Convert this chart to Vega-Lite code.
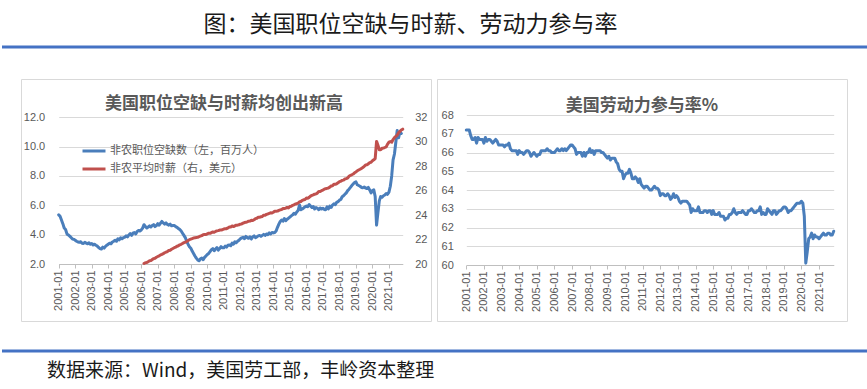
{
  "$schema": "https://vega.github.io/schema/vega-lite/v6.json",
  "padding": 0,
  "background": "white",
  "spacing": 29,
  "resolve": {"scale": {"color": "independent"}, "legend": {"color": "independent"}},
  "config": {
    "view": {"stroke": "#d9d9d9", "strokeWidth": 1},
    "axis": {"labelFont": "Liberation Sans", "labelFontSize": 11, "labelColor": "#595959", "title": null, "gridColor": "#d9d9d9", "gridWidth": 1, "domainColor": "#bfbfbf", "tickColor": "#bfbfbf"},
    "title": {"font": "Noto Sans CJK SC", "fontSize": 17, "fontWeight": "bold", "color": "#595959", "anchor": "middle", "frame": "group", "baseline": "middle"},
    "line": {"strokeWidth": 3, "strokeJoin": "round", "strokeCap": "round"}
  },
  "datasets": {
    "jw": [
      {"d":"2001-01","jo":5.35},{"d":"2001-02","jo":5.25},{"d":"2001-03","jo":5.0},{"d":"2001-04","jo":4.75},{"d":"2001-05","jo":4.45},{"d":"2001-06","jo":4.35},{"d":"2001-07","jo":4.05},{"d":"2001-08","jo":3.98},{"d":"2001-09","jo":3.9},{"d":"2001-10","jo":3.8},{"d":"2001-11","jo":3.7},{"d":"2001-12","jo":3.68},
      {"d":"2002-01","jo":3.62},{"d":"2002-02","jo":3.55},{"d":"2002-03","jo":3.5},{"d":"2002-04","jo":3.48},{"d":"2002-05","jo":3.52},{"d":"2002-06","jo":3.42},{"d":"2002-07","jo":3.4},{"d":"2002-08","jo":3.48},{"d":"2002-09","jo":3.42},{"d":"2002-10","jo":3.38},{"d":"2002-11","jo":3.45},{"d":"2002-12","jo":3.35},
      {"d":"2003-01","jo":3.4},{"d":"2003-02","jo":3.3},{"d":"2003-03","jo":3.35},{"d":"2003-04","jo":3.28},{"d":"2003-05","jo":3.22},{"d":"2003-06","jo":3.12},{"d":"2003-07","jo":3.05},{"d":"2003-08","jo":3.02},{"d":"2003-09","jo":3.15},{"d":"2003-10","jo":3.08},{"d":"2003-11","jo":3.2},{"d":"2003-12","jo":3.28},
      {"d":"2004-01","jo":3.35},{"d":"2004-02","jo":3.42},{"d":"2004-03","jo":3.38},{"d":"2004-04","jo":3.5},{"d":"2004-05","jo":3.55},{"d":"2004-06","jo":3.62},{"d":"2004-07","jo":3.55},{"d":"2004-08","jo":3.72},{"d":"2004-09","jo":3.65},{"d":"2004-10","jo":3.78},{"d":"2004-11","jo":3.72},{"d":"2004-12","jo":3.8},
      {"d":"2005-01","jo":3.82},{"d":"2005-02","jo":3.92},{"d":"2005-03","jo":3.85},{"d":"2005-04","jo":3.98},{"d":"2005-05","jo":4.08},{"d":"2005-06","jo":3.95},{"d":"2005-07","jo":4.1},{"d":"2005-08","jo":4.15},{"d":"2005-09","jo":4.05},{"d":"2005-10","jo":4.22},{"d":"2005-11","jo":4.28},{"d":"2005-12","jo":4.25},
      {"d":"2006-01","jo":4.32},{"d":"2006-02","jo":4.45},{"d":"2006-03","jo":4.68,"w":20.04},{"d":"2006-04","jo":4.55,"w":20.11},{"d":"2006-05","jo":4.45,"w":20.12},{"d":"2006-06","jo":4.52,"w":20.19},{"d":"2006-07","jo":4.6,"w":20.26},{"d":"2006-08","jo":4.52,"w":20.28},{"d":"2006-09","jo":4.62,"w":20.37},{"d":"2006-10","jo":4.68,"w":20.44},{"d":"2006-11","jo":4.55,"w":20.47},{"d":"2006-12","jo":4.62,"w":20.55},
      {"d":"2007-01","jo":4.75,"w":20.61},{"d":"2007-02","jo":4.65,"w":20.67},{"d":"2007-03","jo":4.78,"w":20.74},{"d":"2007-04","jo":4.9,"w":20.79},{"d":"2007-05","jo":4.8,"w":20.85},{"d":"2007-06","jo":4.72,"w":20.92},{"d":"2007-07","jo":4.8,"w":20.97},{"d":"2007-08","jo":4.7,"w":21.02},{"d":"2007-09","jo":4.65,"w":21.1},{"d":"2007-10","jo":4.72,"w":21.13},{"d":"2007-11","jo":4.6,"w":21.21},{"d":"2007-12","jo":4.62,"w":21.27},
      {"d":"2008-01","jo":4.62,"w":21.33},{"d":"2008-02","jo":4.55,"w":21.38},{"d":"2008-03","jo":4.5,"w":21.45},{"d":"2008-04","jo":4.42,"w":21.49},{"d":"2008-05","jo":4.35,"w":21.57},{"d":"2008-06","jo":4.25,"w":21.61},{"d":"2008-07","jo":4.1,"w":21.68},{"d":"2008-08","jo":3.95,"w":21.75},{"d":"2008-09","jo":3.8,"w":21.78},{"d":"2008-10","jo":3.55,"w":21.84},{"d":"2008-11","jo":3.35,"w":21.92},{"d":"2008-12","jo":3.18,"w":21.99},
      {"d":"2009-01","jo":3.08,"w":22.03},{"d":"2009-02","jo":2.88,"w":22.07},{"d":"2009-03","jo":2.72,"w":22.13},{"d":"2009-04","jo":2.55,"w":22.14},{"d":"2009-05","jo":2.4,"w":22.17},{"d":"2009-06","jo":2.28,"w":22.18},{"d":"2009-07","jo":2.22,"w":22.23},{"d":"2009-08","jo":2.35,"w":22.29},{"d":"2009-09","jo":2.4,"w":22.32},{"d":"2009-10","jo":2.3,"w":22.39},{"d":"2009-11","jo":2.45,"w":22.42},{"d":"2009-12","jo":2.55,"w":22.41},
      {"d":"2010-01","jo":2.65,"w":22.47},{"d":"2010-02","jo":2.72,"w":22.52},{"d":"2010-03","jo":2.85,"w":22.51},{"d":"2010-04","jo":2.98,"w":22.57},{"d":"2010-05","jo":3.05,"w":22.62},{"d":"2010-06","jo":2.9,"w":22.6},{"d":"2010-07","jo":3.02,"w":22.66},{"d":"2010-08","jo":3.12,"w":22.71},{"d":"2010-09","jo":2.95,"w":22.73},{"d":"2010-10","jo":3.05,"w":22.78},{"d":"2010-11","jo":3.18,"w":22.78},{"d":"2010-12","jo":3.1,"w":22.8},
      {"d":"2011-01","jo":3.1,"w":22.86},{"d":"2011-02","jo":3.22,"w":22.88},{"d":"2011-03","jo":3.15,"w":22.89},{"d":"2011-04","jo":3.28,"w":22.95},{"d":"2011-05","jo":3.3,"w":23.02},{"d":"2011-06","jo":3.25,"w":23.03},{"d":"2011-07","jo":3.42,"w":23.11},{"d":"2011-08","jo":3.35,"w":23.06},{"d":"2011-09","jo":3.52,"w":23.12},{"d":"2011-10","jo":3.45,"w":23.18},{"d":"2011-11","jo":3.55,"w":23.18},{"d":"2011-12","jo":3.62,"w":23.21},
      {"d":"2012-01","jo":3.72,"w":23.26},{"d":"2012-02","jo":3.78,"w":23.28},{"d":"2012-03","jo":3.82,"w":23.34},{"d":"2012-04","jo":3.72,"w":23.39},{"d":"2012-05","jo":3.88,"w":23.41},{"d":"2012-06","jo":3.8,"w":23.45},{"d":"2012-07","jo":3.75,"w":23.5},{"d":"2012-08","jo":3.85,"w":23.51},{"d":"2012-09","jo":3.7,"w":23.57},{"d":"2012-10","jo":3.85,"w":23.56},{"d":"2012-11","jo":3.92,"w":23.62},{"d":"2012-12","jo":3.8,"w":23.71},
      {"d":"2013-01","jo":3.85,"w":23.74},{"d":"2013-02","jo":3.92,"w":23.82},{"d":"2013-03","jo":3.95,"w":23.83},{"d":"2013-04","jo":3.88,"w":23.86},{"d":"2013-05","jo":3.95,"w":23.89},{"d":"2013-06","jo":4.02,"w":23.99},{"d":"2013-07","jo":3.95,"w":23.99},{"d":"2013-08","jo":4.05,"w":24.06},{"d":"2013-09","jo":4.0,"w":24.09},{"d":"2013-10","jo":4.12,"w":24.14},{"d":"2013-11","jo":4.05,"w":24.19},{"d":"2013-12","jo":4.15,"w":24.17},
      {"d":"2014-01","jo":4.12,"w":24.23},{"d":"2014-02","jo":4.15,"w":24.32},{"d":"2014-03","jo":4.25,"w":24.32},{"d":"2014-04","jo":4.5,"w":24.33},{"d":"2014-05","jo":4.72,"w":24.39},{"d":"2014-06","jo":4.9,"w":24.43},{"d":"2014-07","jo":5.0,"w":24.46},{"d":"2014-08","jo":4.92,"w":24.53},{"d":"2014-09","jo":5.1,"w":24.53},{"d":"2014-10","jo":4.95,"w":24.57},{"d":"2014-11","jo":5.05,"w":24.63},{"d":"2014-12","jo":5.12,"w":24.59},
      {"d":"2015-01","jo":5.2,"w":24.7},{"d":"2015-02","jo":5.28,"w":24.73},{"d":"2015-03","jo":5.35,"w":24.8},{"d":"2015-04","jo":5.45,"w":24.84},{"d":"2015-05","jo":5.4,"w":24.91},{"d":"2015-06","jo":5.55,"w":24.93},{"d":"2015-07","jo":5.65,"w":24.99},{"d":"2015-08","jo":6.02,"w":25.09},{"d":"2015-09","jo":5.7,"w":25.11},{"d":"2015-10","jo":5.75,"w":25.2},{"d":"2015-11","jo":5.82,"w":25.25},{"d":"2015-12","jo":5.9,"w":25.28},
      {"d":"2016-01","jo":5.95,"w":25.39},{"d":"2016-02","jo":5.9,"w":25.38},{"d":"2016-03","jo":6.05,"w":25.45},{"d":"2016-04","jo":5.95,"w":25.55},{"d":"2016-05","jo":5.85,"w":25.61},{"d":"2016-06","jo":5.92,"w":25.65},{"d":"2016-07","jo":5.75,"w":25.71},{"d":"2016-08","jo":5.85,"w":25.74},{"d":"2016-09","jo":5.8,"w":25.8},{"d":"2016-10","jo":5.7,"w":25.93},{"d":"2016-11","jo":5.82,"w":25.93},{"d":"2016-12","jo":5.75,"w":26.0},
      {"d":"2017-01","jo":5.8,"w":26.05},{"d":"2017-02","jo":5.72,"w":26.12},{"d":"2017-03","jo":5.7,"w":26.16},{"d":"2017-04","jo":5.9,"w":26.19},{"d":"2017-05","jo":5.75,"w":26.22},{"d":"2017-06","jo":5.95,"w":26.29},{"d":"2017-07","jo":5.85,"w":26.38},{"d":"2017-08","jo":6.02,"w":26.4},{"d":"2017-09","jo":6.1,"w":26.53},{"d":"2017-10","jo":6.05,"w":26.52},{"d":"2017-11","jo":6.2,"w":26.56},{"d":"2017-12","jo":6.25,"w":26.64},
      {"d":"2018-01","jo":6.35,"w":26.74},{"d":"2018-02","jo":6.4,"w":26.77},{"d":"2018-03","jo":6.58,"w":26.84},{"d":"2018-04","jo":6.65,"w":26.86},{"d":"2018-05","jo":6.75,"w":26.95},{"d":"2018-06","jo":6.85,"w":26.98},{"d":"2018-07","jo":7.0,"w":27.04},{"d":"2018-08","jo":7.1,"w":27.17},{"d":"2018-09","jo":7.22,"w":27.25},{"d":"2018-10","jo":7.35,"w":27.3},{"d":"2018-11","jo":7.45,"w":27.36},{"d":"2018-12","jo":7.55,"w":27.46},
      {"d":"2019-01","jo":7.6,"w":27.53},{"d":"2019-02","jo":7.4,"w":27.62},{"d":"2019-03","jo":7.35,"w":27.69},{"d":"2019-04","jo":7.3,"w":27.75},{"d":"2019-05","jo":7.22,"w":27.82},{"d":"2019-06","jo":7.2,"w":27.89},{"d":"2019-07","jo":7.25,"w":27.99},{"d":"2019-08","jo":7.18,"w":28.1},{"d":"2019-09","jo":7.15,"w":28.12},{"d":"2019-10","jo":7.22,"w":28.19},{"d":"2019-11","jo":7.05,"w":28.29},{"d":"2019-12","jo":6.85,"w":28.32},
      {"d":"2020-01","jo":7.0,"w":28.44},{"d":"2020-02","jo":7.05,"w":28.52},{"d":"2020-03","jo":6.6,"w":28.62},{"d":"2020-04","jo":4.65,"w":30.03},{"d":"2020-05","jo":5.5,"w":29.72},{"d":"2020-06","jo":6.3,"w":29.35},{"d":"2020-07","jo":6.6,"w":29.34},{"d":"2020-08","jo":6.55,"w":29.46},{"d":"2020-09","jo":6.65,"w":29.48},{"d":"2020-10","jo":6.7,"w":29.53},{"d":"2020-11","jo":6.8,"w":29.58},{"d":"2020-12","jo":6.75,"w":29.81},
      {"d":"2021-01","jo":6.9,"w":29.96},{"d":"2021-02","jo":7.3,"w":30.01},{"d":"2021-03","jo":8.0,"w":29.96},{"d":"2021-04","jo":9.1,"w":30.18},{"d":"2021-05","jo":9.5,"w":30.33},{"d":"2021-06","jo":10.3,"w":30.43},{"d":"2021-07","jo":11.1,"w":30.54},{"d":"2021-08","jo":10.6,"w":30.73},{"d":"2021-09","jo":11.0,"w":30.85},{"d":"2021-10","jo":10.9,"w":30.96},{"d":"2021-11","w":31.03}
    ],
    "lf": [
      {"d":"2001-01","p":67.2},{"d":"2001-02","p":67.2},{"d":"2001-03","p":67.2},{"d":"2001-04","p":66.9},{"d":"2001-05","p":66.7},{"d":"2001-06","p":66.7},{"d":"2001-07","p":66.8},{"d":"2001-08","p":66.5},{"d":"2001-09","p":66.8},{"d":"2001-10","p":66.7},{"d":"2001-11","p":66.7},{"d":"2001-12","p":66.7},
      {"d":"2002-01","p":66.5},{"d":"2002-02","p":66.8},{"d":"2002-03","p":66.6},{"d":"2002-04","p":66.7},{"d":"2002-05","p":66.7},{"d":"2002-06","p":66.6},{"d":"2002-07","p":66.5},{"d":"2002-08","p":66.6},{"d":"2002-09","p":66.7},{"d":"2002-10","p":66.6},{"d":"2002-11","p":66.4},{"d":"2002-12","p":66.4},
      {"d":"2003-01","p":66.4},{"d":"2003-02","p":66.4},{"d":"2003-03","p":66.3},{"d":"2003-04","p":66.4},{"d":"2003-05","p":66.4},{"d":"2003-06","p":66.5},{"d":"2003-07","p":66.2},{"d":"2003-08","p":66.1},{"d":"2003-09","p":66.1},{"d":"2003-10","p":66.1},{"d":"2003-11","p":66.1},{"d":"2003-12","p":65.9},
      {"d":"2004-01","p":66.1},{"d":"2004-02","p":66.0},{"d":"2004-03","p":66.0},{"d":"2004-04","p":65.9},{"d":"2004-05","p":66.0},{"d":"2004-06","p":66.1},{"d":"2004-07","p":66.1},{"d":"2004-08","p":66.0},{"d":"2004-09","p":65.8},{"d":"2004-10","p":65.9},{"d":"2004-11","p":66.0},{"d":"2004-12","p":65.9},
      {"d":"2005-01","p":65.8},{"d":"2005-02","p":65.9},{"d":"2005-03","p":65.9},{"d":"2005-04","p":66.1},{"d":"2005-05","p":66.1},{"d":"2005-06","p":66.1},{"d":"2005-07","p":66.1},{"d":"2005-08","p":66.2},{"d":"2005-09","p":66.1},{"d":"2005-10","p":66.1},{"d":"2005-11","p":66.0},{"d":"2005-12","p":66.0},
      {"d":"2006-01","p":66.0},{"d":"2006-02","p":66.1},{"d":"2006-03","p":66.2},{"d":"2006-04","p":66.1},{"d":"2006-05","p":66.1},{"d":"2006-06","p":66.2},{"d":"2006-07","p":66.1},{"d":"2006-08","p":66.2},{"d":"2006-09","p":66.1},{"d":"2006-10","p":66.2},{"d":"2006-11","p":66.3},{"d":"2006-12","p":66.4},
      {"d":"2007-01","p":66.4},{"d":"2007-02","p":66.3},{"d":"2007-03","p":66.2},{"d":"2007-04","p":65.9},{"d":"2007-05","p":66.0},{"d":"2007-06","p":66.0},{"d":"2007-07","p":66.0},{"d":"2007-08","p":65.8},{"d":"2007-09","p":66.0},{"d":"2007-10","p":65.8},{"d":"2007-11","p":66.0},{"d":"2007-12","p":66.0},
      {"d":"2008-01","p":66.2},{"d":"2008-02","p":66.0},{"d":"2008-03","p":66.1},{"d":"2008-04","p":65.9},{"d":"2008-05","p":66.1},{"d":"2008-06","p":66.1},{"d":"2008-07","p":66.1},{"d":"2008-08","p":66.1},{"d":"2008-09","p":66.0},{"d":"2008-10","p":66.0},{"d":"2008-11","p":65.9},{"d":"2008-12","p":65.8},
      {"d":"2009-01","p":65.7},{"d":"2009-02","p":65.8},{"d":"2009-03","p":65.6},{"d":"2009-04","p":65.7},{"d":"2009-05","p":65.7},{"d":"2009-06","p":65.7},{"d":"2009-07","p":65.5},{"d":"2009-08","p":65.4},{"d":"2009-09","p":65.1},{"d":"2009-10","p":65.0},{"d":"2009-11","p":65.0},{"d":"2009-12","p":64.6},
      {"d":"2010-01","p":64.8},{"d":"2010-02","p":64.9},{"d":"2010-03","p":64.9},{"d":"2010-04","p":65.1},{"d":"2010-05","p":64.9},{"d":"2010-06","p":64.6},{"d":"2010-07","p":64.6},{"d":"2010-08","p":64.7},{"d":"2010-09","p":64.6},{"d":"2010-10","p":64.4},{"d":"2010-11","p":64.6},{"d":"2010-12","p":64.3},
      {"d":"2011-01","p":64.2},{"d":"2011-02","p":64.1},{"d":"2011-03","p":64.2},{"d":"2011-04","p":64.2},{"d":"2011-05","p":64.1},{"d":"2011-06","p":64.0},{"d":"2011-07","p":64.0},{"d":"2011-08","p":64.1},{"d":"2011-09","p":64.2},{"d":"2011-10","p":64.1},{"d":"2011-11","p":64.1},{"d":"2011-12","p":64.0},
      {"d":"2012-01","p":63.7},{"d":"2012-02","p":63.8},{"d":"2012-03","p":63.8},{"d":"2012-04","p":63.7},{"d":"2012-05","p":63.7},{"d":"2012-06","p":63.8},{"d":"2012-07","p":63.7},{"d":"2012-08","p":63.5},{"d":"2012-09","p":63.6},{"d":"2012-10","p":63.8},{"d":"2012-11","p":63.6},{"d":"2012-12","p":63.7},
      {"d":"2013-01","p":63.6},{"d":"2013-02","p":63.4},{"d":"2013-03","p":63.3},{"d":"2013-04","p":63.4},{"d":"2013-05","p":63.4},{"d":"2013-06","p":63.4},{"d":"2013-07","p":63.4},{"d":"2013-08","p":63.3},{"d":"2013-09","p":63.2},{"d":"2013-10","p":62.8},{"d":"2013-11","p":63.0},{"d":"2013-12","p":62.9},
      {"d":"2014-01","p":62.9},{"d":"2014-02","p":62.9},{"d":"2014-03","p":63.1},{"d":"2014-04","p":62.8},{"d":"2014-05","p":62.8},{"d":"2014-06","p":62.8},{"d":"2014-07","p":62.9},{"d":"2014-08","p":62.9},{"d":"2014-09","p":62.8},{"d":"2014-10","p":62.9},{"d":"2014-11","p":62.9},{"d":"2014-12","p":62.7},
      {"d":"2015-01","p":62.9},{"d":"2015-02","p":62.7},{"d":"2015-03","p":62.7},{"d":"2015-04","p":62.7},{"d":"2015-05","p":62.8},{"d":"2015-06","p":62.6},{"d":"2015-07","p":62.6},{"d":"2015-08","p":62.6},{"d":"2015-09","p":62.4},{"d":"2015-10","p":62.5},{"d":"2015-11","p":62.5},{"d":"2015-12","p":62.7},
      {"d":"2016-01","p":62.7},{"d":"2016-02","p":62.8},{"d":"2016-03","p":63.0},{"d":"2016-04","p":62.8},{"d":"2016-05","p":62.7},{"d":"2016-06","p":62.8},{"d":"2016-07","p":62.8},{"d":"2016-08","p":62.8},{"d":"2016-09","p":62.9},{"d":"2016-10","p":62.8},{"d":"2016-11","p":62.7},{"d":"2016-12","p":62.7},
      {"d":"2017-01","p":62.9},{"d":"2017-02","p":62.9},{"d":"2017-03","p":63.0},{"d":"2017-04","p":62.9},{"d":"2017-05","p":62.8},{"d":"2017-06","p":62.8},{"d":"2017-07","p":62.9},{"d":"2017-08","p":62.9},{"d":"2017-09","p":63.1},{"d":"2017-10","p":62.7},{"d":"2017-11","p":62.8},{"d":"2017-12","p":62.7},
      {"d":"2018-01","p":62.7},{"d":"2018-02","p":63.0},{"d":"2018-03","p":62.9},{"d":"2018-04","p":62.8},{"d":"2018-05","p":62.7},{"d":"2018-06","p":62.9},{"d":"2018-07","p":62.9},{"d":"2018-08","p":62.7},{"d":"2018-09","p":62.8},{"d":"2018-10","p":62.9},{"d":"2018-11","p":62.9},{"d":"2018-12","p":63.0},
      {"d":"2019-01","p":63.1},{"d":"2019-02","p":63.1},{"d":"2019-03","p":63.0},{"d":"2019-04","p":62.8},{"d":"2019-05","p":62.9},{"d":"2019-06","p":62.9},{"d":"2019-07","p":63.0},{"d":"2019-08","p":63.1},{"d":"2019-09","p":63.2},{"d":"2019-10","p":63.3},{"d":"2019-11","p":63.3},{"d":"2019-12","p":63.3},
      {"d":"2020-01","p":63.4},{"d":"2020-02","p":63.3},{"d":"2020-03","p":62.6},{"d":"2020-04","p":60.1},{"d":"2020-05","p":60.7},{"d":"2020-06","p":61.4},{"d":"2020-07","p":61.5},{"d":"2020-08","p":61.7},{"d":"2020-09","p":61.4},{"d":"2020-10","p":61.6},{"d":"2020-11","p":61.5},{"d":"2020-12","p":61.5},
      {"d":"2021-01","p":61.4},{"d":"2021-02","p":61.5},{"d":"2021-03","p":61.6},{"d":"2021-04","p":61.7},{"d":"2021-05","p":61.6},{"d":"2021-06","p":61.6},{"d":"2021-07","p":61.7},{"d":"2021-08","p":61.7},{"d":"2021-09","p":61.6},{"d":"2021-10","p":61.6},{"d":"2021-11","p":61.8}
    ]
  },
  "vconcat": [
    {
      "width": 867,
      "height": 47,
      "view": {"stroke": null},
      "data": {"values": [{"t": "图：美国职位空缺与时薪、劳动力参与率"}]},
      "layer": [
        {"mark": {"type": "text", "font": "Noto Sans CJK SC", "fontSize": 23, "color": "#1a1a1a", "dx": -25, "dy": 1}, "encoding": {"text": {"field": "t"}}},
        {"mark": {"type": "rule", "color": "#4472C4", "strokeWidth": 3}, "encoding": {"y": {"datum": 0, "scale": {"domain": [0, 1]}, "axis": null}}}
      ]
    },
    {
      "spacing": 27,
      "resolve": {"scale": {"color": "independent"}, "legend": {"color": "independent"}},
      "vconcat": [
        {
          "bounds": "flush",
          "spacing": 6,
          "resolve": {"scale": {"color": "independent"}, "legend": {"color": "independent"}},
          "hconcat": [
            {
              "width": 13,
              "height": 242,
              "view": {"stroke": null},
              "data": {"values": []},
              "mark": {"type": "point"},
              "encoding": {}
            },
            {
              "width": 410,
              "height": 242,
              "title": {"text": "美国职位空缺与时薪均创出新高", "offset": -34, "dx": -2},
              "data": {"name": "jw"},
              "resolve": {"scale": {"y": "independent"}},
              "encoding": {
                "x": {"field": "d", "type": "ordinal", "scale": {"type": "point", "padding": 0, "range": [37.7, 381.7]},
                  "axis": {"orient": "bottom", "offset": -57, "labelAngle": 270, "labelPadding": 2, "tickSize": 4, "labelOverlap": false, "grid": false,
                    "values": ["2001-01","2002-01","2003-01","2004-01","2005-01","2006-01","2007-01","2008-01","2009-01","2010-01","2011-01","2012-01","2013-01","2014-01","2015-01","2016-01","2017-01","2018-01","2019-01","2020-01","2021-01"]}}
              },
              "layer": [
                {
                  "mark": {"type": "line"},
                  "encoding": {
                    "y": {"field": "jo", "type": "quantitative", "scale": {"domain": [2, 12], "range": [185, 38.3], "nice": false},
                      "axis": {"orient": "left", "offset": -37.7, "values": [2, 4, 6, 8, 10, 12], "format": ".1f", "grid": true, "domain": false, "ticks": false, "tickSize": 0, "labelPadding": 14}},
                    "color": {"datum": "非农职位空缺数（左，百万人）", "type": "nominal",
                      "scale": {"domain": ["非农职位空缺数（左，百万人）", "非农平均时薪（右，美元）"], "range": ["#4A7EBB", "#C0504D"]},
                      "legend": {"title": null, "orient": "none", "legendX": 60, "legendY": 59, "symbolType": "stroke", "symbolSize": 529, "symbolStrokeWidth": 3, "labelFont": "Noto Sans CJK SC", "labelFontSize": 11, "labelColor": "#595959", "labelOffset": 3, "rowPadding": -5, "padding": 0, "labelLimit": 300}}
                  }
                },
                {
                  "mark": {"type": "line"},
                  "encoding": {
                    "y": {"field": "w", "type": "quantitative", "scale": {"domain": [20, 32], "range": [185, 38.3], "nice": false},
                      "axis": {"orient": "right", "offset": -28.3, "values": [20, 22, 24, 26, 28, 30, 32], "grid": false, "domain": false, "ticks": false, "tickSize": 0, "labelPadding": 12}},
                    "color": {"datum": "非农平均时薪（右，美元）", "type": "nominal"}
                  }
                }
              ]
            },
            {
              "width": 410,
              "height": 242,
              "title": {"text": "美国劳动力参与率%", "offset": -36},
              "data": {"name": "lf"},
              "mark": {"type": "line", "color": "#4A7EBB"},
              "encoding": {
                "x": {"field": "d", "type": "ordinal", "scale": {"type": "point", "padding": 0, "range": [29.3, 396.7]},
                  "axis": {"orient": "bottom", "offset": -56, "labelAngle": 270, "labelPadding": 2, "tickSize": 4, "labelOverlap": false, "grid": false,
                    "values": ["2001-01","2002-01","2003-01","2004-01","2005-01","2006-01","2007-01","2008-01","2009-01","2010-01","2011-01","2012-01","2013-01","2014-01","2015-01","2016-01","2017-01","2018-01","2019-01","2020-01","2021-01"]}},
                "y": {"field": "p", "type": "quantitative", "scale": {"domain": [60, 68], "range": [186, 36], "nice": false},
                  "axis": {"orient": "left", "offset": -29.3, "values": [60, 61, 62, 63, 64, 65, 66, 67, 68], "format": "d", "grid": true, "domain": false, "ticks": false, "tickSize": 0, "labelPadding": 13}}
              }
            }
          ]
        },
        {
          "width": 867,
          "height": 38,
          "view": {"stroke": null},
          "data": {"values": [{"t": "数据来源：Wind，美国劳工部，丰岭资本整理"}]},
          "layer": [
            {"mark": {"type": "rule", "color": "#4472C4", "strokeWidth": 3}, "encoding": {"y": {"datum": 1, "scale": {"domain": [0, 1]}, "axis": null}}},
            {"mark": {"type": "text", "font": "Noto Sans CJK SC", "fontSize": 19, "color": "#1a1a1a", "align": "left", "dx": -388.5, "dy": 1}, "encoding": {"text": {"field": "t"}}}
          ]
        }
      ]
    }
  ]
}
